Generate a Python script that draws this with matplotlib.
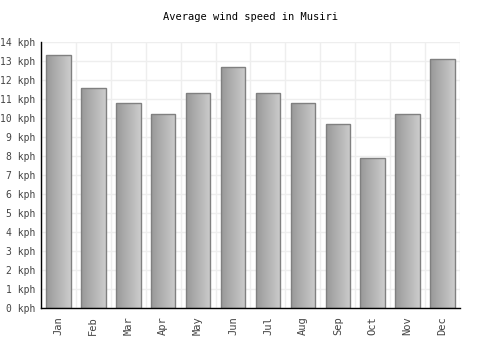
import numpy as np
import matplotlib
matplotlib.use("Agg")
import matplotlib.pyplot as plt
from matplotlib.patches import Rectangle

months = ["Jan", "Feb", "Mar", "Apr", "May", "Jun",
          "Jul", "Aug", "Sep", "Oct", "Nov", "Dec"]
wind_kph = [13.3, 11.6, 10.8, 10.2, 11.3, 12.7,
            11.3, 10.8, 9.7, 7.9, 10.2, 13.1]
yticks = list(range(0, 15))
ytick_labels = [f"{v} kph" for v in yticks]

plt.rcParams['font.family'] = ['DejaVu Sans Mono']

fig = plt.figure(figsize=(5, 3.5), dpi=100)
ax = fig.add_axes([0.082, 0.12, 0.838, 0.76])

x = np.arange(len(months))
width = 0.7
bars = ax.bar(x, wind_kph, width=width, color="none", edgecolor="#808080",
              linewidth=1, zorder=3)

gradient = np.linspace(0, 1, 64).reshape(1, -1)
cmap = matplotlib.colors.LinearSegmentedColormap.from_list("g", ["#999999", "#cccccc"])
for bar in bars:
    bx, by = bar.get_x(), bar.get_y()
    bw, bh = bar.get_width(), bar.get_height()
    im = ax.imshow(gradient, cmap=cmap, aspect="auto",
                   extent=(bx, bx + bw, by, by + bh), zorder=2)
    im.set_clip_path(Rectangle((bx, by), bw, bh, transform=ax.transData))

ax.set_xlim(-0.5, len(months) - 0.5)
ax.set_ylim(0, 14)
ax.set_xticks(x)
ax.set_xticklabels(months, rotation=90, fontsize=7.5)
ax.set_yticks(yticks)
ax.set_yticklabels(ytick_labels, fontsize=7)
ax.set_xticks(np.arange(-0.5, len(months)), minor=True)
ax.grid(True, which="minor", axis="x", color="#eeeeee", linewidth=1, zorder=0)
ax.grid(True, which="major", axis="y", color="#eeeeee", linewidth=1, zorder=0)
ax.tick_params(axis="both", which="both", length=0, labelcolor="#444444")
ax.tick_params(axis="x", pad=6)
ax.tick_params(axis="y", pad=4)

for side in ["top", "right"]:
    ax.spines[side].set_visible(False)
for side in ["left", "bottom"]:
    ax.spines[side].set_color("black")
    ax.spines[side].set_linewidth(1)
    ax.spines[side].set_zorder(4)

ax.set_title("Average wind speed in Musiri", fontsize=7.5, pad=16)

fig.savefig("out.png", dpi=100)
